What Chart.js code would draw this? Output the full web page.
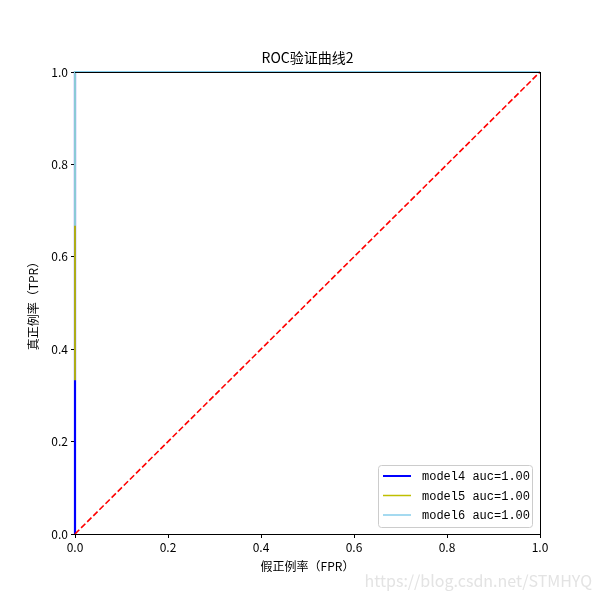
<!DOCTYPE html>
<html>
<head>
<meta charset="utf-8">
<script src="https://cdn.jsdelivr.net/npm/chart.js@4.4.1/dist/chart.umd.min.js"></script>
<style>
  body { margin: 0; background: #fff; }
  #wrap { width: 600px; height: 600px; }
</style>
</head>
<body>
<div id="wrap"><canvas id="rocChart" width="600" height="600"></canvas></div>
<script>
// data
var modelNames = ["model4 auc=1.00", "model5 auc=1.00", "model6 auc=1.00"];
var modelColors = ["#0000ff", "#bfbf00", "#87ceeb"];
var model4Fpr = [0, 0, 0, 1];
var model4Tpr = [0, 0.333, 1, 1];
var model5Fpr = [0, 0, 1];
var model5Tpr = [0.333, 1, 1];
var model6Fpr = [0, 0, 1];
var model6Tpr = [0.667, 1, 1];
var diagFpr = [0, 1];
var diagTpr = [0, 1];
var tickValues = [0, 0.2, 0.4, 0.6, 0.8, 1.0];

var font = "'Noto Sans CJK SC', 'DejaVu Sans', sans-serif";
var monoFont = "'Liberation Mono', 'DejaVu Sans Mono', monospace";

function toPoints(xs, ys) {
  return xs.map(function (x, i) { return { x: x, y: ys[i] }; });
}

function line(ctx, x1, y1, x2, y2) {
  ctx.beginPath();
  ctx.moveTo(x1, y1);
  ctx.lineTo(x2, y2);
  ctx.stroke();
}

// left spine goes under the curves, the other three over them
var framePlugin = {
  id: 'frame',
  beforeDatasetsDraw: function (chart) {
    var ctx = chart.ctx;
    var a = chart.chartArea;
    ctx.save();
    ctx.strokeStyle = '#000';
    ctx.lineWidth = 1;
    line(ctx, a.left + 0.5, a.top, a.left + 0.5, a.bottom + 1);
    ctx.restore();
  },
  afterDatasetsDraw: function (chart) {
    var ctx = chart.ctx;
    var a = chart.chartArea;
    ctx.save();
    ctx.strokeStyle = '#000';
    ctx.lineWidth = 1;
    line(ctx, a.left, a.top + 0.5, a.right + 1, a.top + 0.5);
    line(ctx, a.right + 0.5, a.top, a.right + 0.5, a.bottom + 1);
    line(ctx, a.left, a.bottom + 0.5, a.right + 1, a.bottom + 0.5);
    ctx.restore();
  }
};

// titles, legend and watermark
var decorPlugin = {
  id: 'decor',
  afterDraw: function (chart) {
    var ctx = chart.ctx;
    var a = chart.chartArea;
    ctx.save();

    ctx.fillStyle = '#000';
    ctx.textAlign = 'center';
    ctx.textBaseline = 'middle';
    ctx.font = '14px ' + font;
    ctx.fillText('ROC验证曲线2', (a.left + a.right) / 2, 58);

    ctx.font = '12px ' + font;
    ctx.fillText('假正例率（FPR）', (a.left + a.right) / 2, 566);

    ctx.save();
    ctx.translate(33, (a.top + a.bottom) / 2);
    ctx.rotate(-Math.PI / 2);
    ctx.fillText('真正例率（TPR）', 0, 0);
    ctx.restore();

    // legend box in lower right
    var bx = 378, by = 465, bw = 154, bh = 62;
    ctx.fillStyle = 'rgba(255,255,255,0.8)';
    ctx.strokeStyle = '#cccccc';
    ctx.lineWidth = 1;
    ctx.beginPath();
    ctx.roundRect(bx + 0.5, by + 0.5, bw, bh, 3);
    ctx.fill();
    ctx.stroke();

    ctx.textAlign = 'left';
    ctx.font = '12px ' + monoFont;
    for (var i = 0; i < modelNames.length; i++) {
      var ly = by + 11 + i * 19.5;
      ctx.strokeStyle = modelColors[i];
      ctx.lineWidth = i === 0 ? 2 : 1.5;
      line(ctx, bx + 5, ly, bx + 33, ly);
      ctx.fillStyle = '#000';
      ctx.fillText(modelNames[i], bx + 44, ly + 1);
    }

    ctx.font = '16px ' + font;
    ctx.fillStyle = '#e3e3e3';
    ctx.textAlign = 'right';
    ctx.fillText('https://blog.csdn.net/STMHYQ', 592, 581);

    ctx.restore();
  }
};

new Chart(document.getElementById('rocChart'), {
  type: 'scatter',
  data: {
    datasets: [
      {
        label: 'diag',
        data: toPoints(diagFpr, diagTpr),
        showLine: true,
        borderColor: '#ff0000',
        borderWidth: 1.6,
        borderDash: [6, 2.6],
        pointRadius: 0,
        clip: false,
        order: 0
      },
      {
        label: modelNames[2],
        data: toPoints(model6Fpr, model6Tpr),
        showLine: true,
        borderColor: modelColors[2],
        borderWidth: 1.8,
        pointRadius: 0,
        clip: false,
        order: 1
      },
      {
        label: modelNames[1],
        data: toPoints(model5Fpr, model5Tpr),
        showLine: true,
        borderColor: modelColors[1],
        borderWidth: 1.8,
        pointRadius: 0,
        clip: false,
        order: 2
      },
      {
        label: modelNames[0],
        data: toPoints(model4Fpr, model4Tpr),
        showLine: true,
        borderColor: modelColors[0],
        borderWidth: 2.2,
        pointRadius: 0,
        clip: false,
        order: 3
      }
    ]
  },
  options: {
    responsive: false,
    animation: false,
    layout: { padding: { top: 72, right: 60, left: 0, bottom: 0 } },
    plugins: {
      legend: { display: false },
      tooltip: { enabled: false }
    },
    scales: {
      x: {
        type: 'linear',
        min: 0,
        max: 1,
        afterFit: function (scale) { scale.height = 66; },
        afterBuildTicks: function (scale) {
          scale.ticks = tickValues.map(function (v) { return { value: v }; });
        },
        ticks: {
          color: '#000',
          font: { size: 12, family: font },
          padding: 2,
          maxRotation: 0,
          callback: function (v) { return v.toFixed(1); }
        },
        grid: { drawOnChartArea: false, tickLength: 4, color: '#000' },
        border: { display: false }
      },
      y: {
        type: 'linear',
        min: 0,
        max: 1,
        afterFit: function (scale) { scale.width = 75; },
        afterBuildTicks: function (scale) {
          scale.ticks = tickValues.map(function (v) { return { value: v }; });
        },
        ticks: {
          color: '#000',
          font: { size: 12, family: font },
          padding: 3,
          callback: function (v) { return v.toFixed(1); }
        },
        grid: { drawOnChartArea: false, tickLength: 4, color: '#000' },
        border: { display: false }
      }
    }
  },
  plugins: [framePlugin, decorPlugin]
});
</script>
</body>
</html>
